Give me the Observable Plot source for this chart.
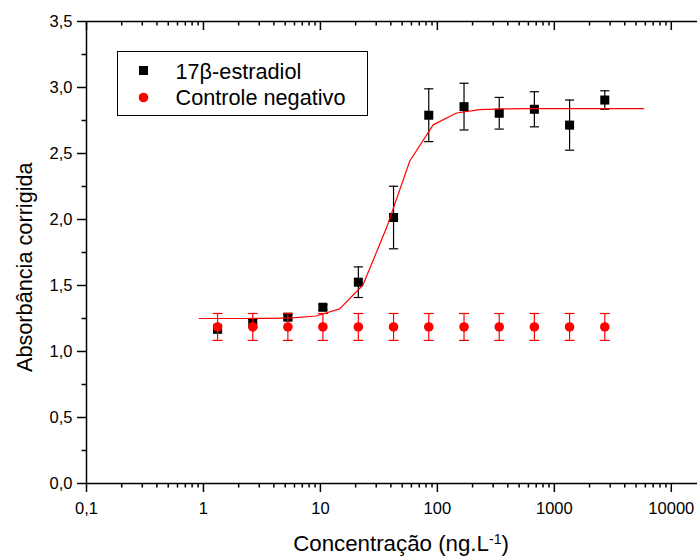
<!DOCTYPE html>
<html><head><meta charset="utf-8">
<script src="https://cdn.jsdelivr.net/npm/d3@7"></script>
<script src="https://cdn.jsdelivr.net/npm/@observablehq/plot@0.6"></script>
<style>
html,body{margin:0;padding:0;background:#fff;overflow:hidden;}
svg{max-width:none !important;}
</style></head><body><div id="chart"></div>
<script>
// Concentrations (ng/L), twofold dilution series
const concentrations = [1.32, 2.64, 5.27, 10.5, 21.1, 42.2, 84.4, 169, 338, 675, 1350, 2700];
// 17β-estradiol mean absorbance and error (half-width)
const estradiol    = [1.17, 1.215, 1.26, 1.335, 1.525, 2.015, 2.79, 2.855, 2.805, 2.835, 2.715, 2.905];
const estradiolErr = [0.03, 0.03, 0.02, 0.02, 0.116, 0.237, 0.20, 0.177, 0.12, 0.133, 0.19, 0.07];
// Negative control
const controle    = [1.186, 1.186, 1.186, 1.186, 1.186, 1.186, 1.186, 1.186, 1.186, 1.186, 1.186, 1.186];
const controleErr = [0.102, 0.102, 0.102, 0.102, 0.102, 0.102, 0.102, 0.102, 0.102, 0.102, 0.102, 0.102];
// Fitted sigmoid curve
const fitConc   = [0.92, 1.46, 2.31, 3.66, 5.81, 9.2, 14.6, 23.1, 36.6, 58.1, 92.0, 146, 231, 366, 581, 920, 1459, 2312, 3664, 5807];
const fitValues = [1.25, 1.25, 1.25, 1.251, 1.255, 1.269, 1.323, 1.504, 1.933, 2.443, 2.717, 2.807, 2.832, 2.838, 2.84, 2.84, 2.84, 2.84, 2.84, 2.84];
// Ticks
const xTicks = [0.1, 1, 10, 100, 1000, 10000];
const xTickLabels = ["0,1", "1", "10", "100", "1000", "10000"];
const yTicks = [0, 0.5, 1.0, 1.5, 2.0, 2.5, 3.0, 3.5];
const yTickLabels = ["0,0", "0,5", "1,0", "1,5", "2,0", "2,5", "3,0", "3,5"];
const yMinorTicks = [0.25, 0.75, 1.25, 1.75, 2.25, 2.75, 3.25];
const seriesNames = ["17β-estradiol", "Controle negativo"];
const xTitle = "Concentração (ng.L";
const xTitleSup = "-1";
const yTitle = "Absorbância corrigida";

const xMinorTicks = [];
for (const base of [0.1, 1, 10, 100, 1000]) for (let k = 2; k <= 9; k++) xMinorTicks.push(+(base * k).toPrecision(3));

const estRows = concentrations.map((c, i) => ({c, v: estradiol[i], e: estradiolErr[i]}));
const ctlRows = concentrations.map((c, i) => ({c, v: controle[i], e: controleErr[i]}));
const fitRows = fitConc.map((c, i) => ({c, v: fitValues[i]}));

const cap = {draw(ctx, size) { const r = Math.sqrt(size / Math.PI); ctx.moveTo(-r, 0); ctx.lineTo(r, 0); }};

const W = 720, H = 556, mL = 86, mR = 14, mT = 21, mB = 73;
const pw = W - mL - mR, ph = H - mT - mB;
const FONT = "'Liberation Sans', Arial, sans-serif";

const chart = Plot.plot({
  width: W, height: H,
  marginLeft: mL, marginRight: mR, marginTop: mT, marginBottom: mB,
  style: {fontFamily: FONT, fontSize: "16.5px", color: "black", background: "white", maxWidth: "none"},
  x: {type: "log", domain: [0.1, 20000]},
  y: {domain: [0, 3.5]},
  marks: [
    Plot.frame({stroke: "black", strokeWidth: 1.5}),
    Plot.axisX({ticks: xTicks, anchor: "bottom", tickSize: 9, tickPadding: 10, strokeWidth: 1.5,
      tickFormat: d => xTickLabels[xTicks.indexOf(d)], fontSize: 16.5, label: null}),
    Plot.axisX({ticks: xMinorTicks, anchor: "bottom", tickSize: 4.5, strokeWidth: 1.5, tickFormat: () => "", label: null}),
    Plot.axisY({ticks: yTicks, anchor: "left", tickSize: 9, tickPadding: 5, strokeWidth: 1.5,
      tickFormat: d => yTickLabels[yTicks.indexOf(d)], fontSize: 16.5, label: null}),
    Plot.axisY({ticks: yMinorTicks, anchor: "left", tickSize: 4.5, strokeWidth: 1.5, tickFormat: () => "", label: null}),
    // inward ticks on top and right
    Plot.ruleX(xTicks, {x: d => d, insetBottom: ph - 9, stroke: "black", strokeWidth: 1.5}),
    Plot.ruleX(xMinorTicks, {x: d => d, insetBottom: ph - 4.5, stroke: "black", strokeWidth: 1.5}),
    Plot.ruleY(yTicks, {y: d => d, insetLeft: pw - 9, stroke: "black", strokeWidth: 1.5}),
    Plot.ruleY(yMinorTicks, {y: d => d, insetLeft: pw - 4.5, stroke: "black", strokeWidth: 1.5}),
    // estradiol
    Plot.ruleX(estRows, {x: "c", y1: d => d.v - d.e, y2: d => d.v + d.e, stroke: "black", strokeWidth: 1.2}),
    Plot.dot(estRows, {x: "c", y: d => d.v - d.e, symbol: cap, r: 4.6, fill: "none", stroke: "black", strokeWidth: 1.2}),
    Plot.dot(estRows, {x: "c", y: d => d.v + d.e, symbol: cap, r: 4.6, fill: "none", stroke: "black", strokeWidth: 1.2}),
    Plot.dot(estRows, {x: "c", y: "v", symbol: "square", r: 5.1, fill: "black", stroke: "none"}),
    // fit
    Plot.line(fitRows, {x: "c", y: "v", stroke: "red", strokeWidth: 1.2}),
    // control
    Plot.ruleX(ctlRows, {x: "c", y1: d => d.v - d.e, y2: d => d.v + d.e, stroke: "red", strokeWidth: 1.2}),
    Plot.dot(ctlRows, {x: "c", y: d => d.v - d.e, symbol: cap, r: 5, fill: "none", stroke: "red", strokeWidth: 1.2}),
    Plot.dot(ctlRows, {x: "c", y: d => d.v + d.e, symbol: cap, r: 5, fill: "none", stroke: "red", strokeWidth: 1.2}),
    Plot.dot(ctlRows, {x: "c", y: "v", symbol: "circle", r: 4.8, fill: "red", stroke: "none"}),
    // legend
    Plot.frame({insetLeft: 31, insetTop: 30, insetRight: pw - 281, insetBottom: ph - 94, stroke: "black", strokeWidth: 1}),
    Plot.dot([seriesNames[0]], {frameAnchor: "top-left", dx: 57, dy: 49, symbol: "square", r: 5.1, fill: "black", stroke: "none"}),
    Plot.dot([seriesNames[1]], {frameAnchor: "top-left", dx: 57, dy: 76, symbol: "circle", r: 4.8, fill: "red", stroke: "none"}),
    Plot.text([seriesNames[0]], {frameAnchor: "top-left", textAnchor: "start", lineAnchor: "middle", dx: 89, dy: 51, fontSize: 21.7, fill: "black"}),
    Plot.text([seriesNames[1]], {frameAnchor: "top-left", textAnchor: "start", lineAnchor: "middle", dx: 89, dy: 76.5, fontSize: 21.7, fill: "black"}),
    // y title
    Plot.text([yTitle], {frameAnchor: "left", textAnchor: "middle", lineAnchor: "middle", rotate: -90, dx: -61, dy: 14.7, fontSize: 21.7, fill: "black"})
  ]
});

// x title with superscript
const svg = d3.select(chart);
const t = svg.append("text")
  .attr("x", 401).attr("y", 551)
  .attr("text-anchor", "middle")
  .attr("font-family", FONT)
  .attr("font-size", 22.3)
  .attr("fill", "black");
t.append("tspan").text(xTitle);
t.append("tspan").attr("font-size", 14).attr("dy", -7).text(xTitleSup);
t.append("tspan").attr("dy", 7).text(")");

document.getElementById("chart").appendChild(chart);
</script>
</body></html>
